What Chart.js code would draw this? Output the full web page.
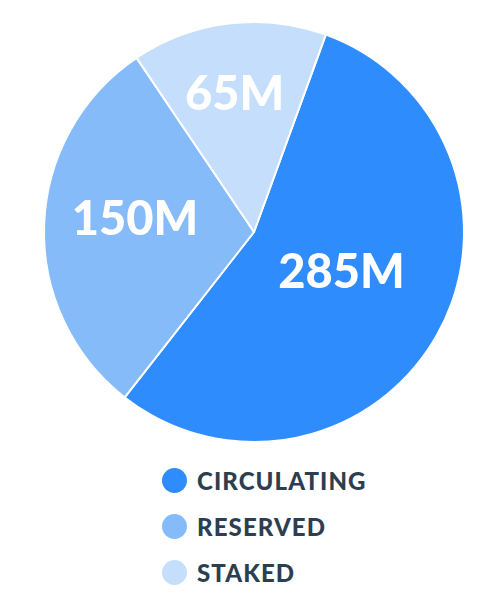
<!DOCTYPE html>
<html>
<head>
<meta charset="utf-8">
<script src="https://cdn.jsdelivr.net/npm/chart.js@4/dist/chart.umd.min.js"></script>
<style>
  body { margin: 0; background: #fff; font-family: Lato, "Open Sans", sans-serif; }
  #wrap { position: relative; width: 487px; height: 450px; }
  #legend { list-style: none; margin: 0; padding: 7px 0 0 162px; }
  #legend li { display: flex; align-items: center; height: 46px; font-weight: 900; font-size: 24px; color: #2c3e50; letter-spacing: 1.1px; }
  #legend span.dot { display: inline-block; width: 25px; height: 25px; border-radius: 50%; margin-right: 10px; }
</style>
</head>
<body>
<div id="wrap"><canvas id="supplyChart"></canvas></div>
<ul id="legend"></ul>
<script>
const categories = ['CIRCULATING', 'RESERVED', 'STAKED'];
const shares = [55, 30, 15];
const valueLabels = ['285M', '150M', '65M'];
const colors = ['#2e8cfc', '#86bbfa', '#c5defc'];
const labelRadius = [0.46, 0.57, 0.66];
const labelTurn = [-4, 4, -1];

// draws the white amount text inside each slice
const sliceText = {
    id: 'sliceText',
    afterDatasetsDraw(chart) {
        const ctx = chart.ctx;
        const arcs = chart.getDatasetMeta(0).data;
        ctx.save();
        ctx.fillStyle = '#fff';
        ctx.font = '900 47px Lato, "Open Sans", sans-serif';
        ctx.textAlign = 'center';
        ctx.textBaseline = 'middle';
        arcs.forEach((arc, i) => {
            const mid = (arc.startAngle + arc.endAngle) / 2 + labelTurn[i] * Math.PI / 180;
            const r = arc.outerRadius * labelRadius[i];
            ctx.fillText(valueLabels[i], arc.x + Math.cos(mid) * r, arc.y + Math.sin(mid) * r);
        });
        ctx.restore();
    }
};

new Chart(document.getElementById('supplyChart'), {
    type: 'pie',
    data: {
        labels: categories,
        datasets: [{
            data: shares,
            backgroundColor: colors,
            borderColor: '#fff',
            borderWidth: 2
        }]
    },
    options: {
        responsive: true,
        maintainAspectRatio: false,
        animation: false,
        rotation: 20,
        layout: { padding: { top: 21, bottom: 7, left: 21, right: 0 } },
        plugins: {
            legend: { display: false },
            tooltip: { enabled: false }
        }
    },
    plugins: [sliceText]
});

const legend = document.getElementById('legend');
categories.forEach((name, i) => {
    const li = document.createElement('li');
    li.innerHTML = `<span class="dot" style="background:${colors[i]}"></span>${name}`;
    legend.appendChild(li);
});
</script>
</body>
</html>
